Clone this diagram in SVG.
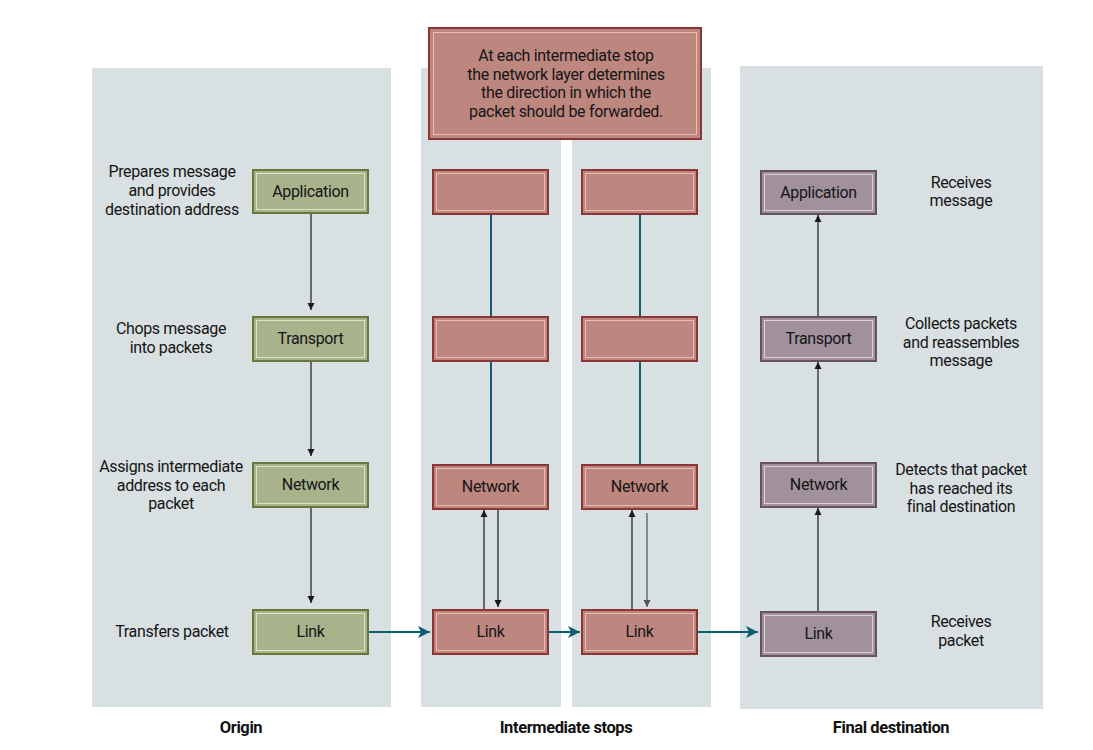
<svg xmlns="http://www.w3.org/2000/svg" width="1093" height="750" viewBox="0 0 1093 750">
<style>
.panel{fill:#d8e0e2}
.t{font-family:Roboto,"Liberation Sans",sans-serif;font-size:16px;fill:#151515;text-anchor:middle;letter-spacing:-0.35px}
.tn{font-family:Roboto,"Liberation Sans",sans-serif;font-size:16px;fill:#151515;text-anchor:middle;letter-spacing:-0.3px}
.lbl{font-family:Roboto,"Liberation Sans",sans-serif;font-size:16.5px;font-weight:bold;fill:#111;text-anchor:middle;letter-spacing:-0.4px}
.g{fill:#a8b38c;stroke:#68773f;stroke-width:2}
.gi{fill:none;stroke:#dde2c8;stroke-width:1}
.r{fill:#bd867f;stroke:#8b3535;stroke-width:2}
.ri{fill:none;stroke:#e6bdb7;stroke-width:1}
.p{fill:#a0919d;stroke:#66525f;stroke-width:2}
.pi{fill:none;stroke:#dccfd7;stroke-width:1}
.k{stroke:#1a1a1a;stroke-width:1.2;fill:none}
.tl{stroke:#0e5d70;stroke-width:2;fill:none}
</style>
<defs>
<marker id="ah" viewBox="0 0 10 10" refX="10" refY="5" markerWidth="7" markerHeight="9" markerUnits="userSpaceOnUse" orient="auto"><path d="M0,0 L10,5 L0,10 z" fill="#1a1a1a"/></marker>
<marker id="ahg" viewBox="0 0 10 10" refX="10" refY="5" markerWidth="7" markerHeight="9" markerUnits="userSpaceOnUse" orient="auto"><path d="M0,0 L10,5 L0,10 z" fill="#555"/></marker>
<marker id="at" viewBox="0 0 12 12" refX="12" refY="6" markerWidth="13" markerHeight="12" markerUnits="userSpaceOnUse" orient="auto"><path d="M0,0 L12,6 L0,12 L3,6 z" fill="#0e5d70"/></marker>
</defs>
<rect width="1093" height="750" fill="#fff"/>
<g id="panels">
<rect class="panel" x="92" y="68" width="299" height="639"/>
<rect class="panel" x="421" y="68" width="140" height="639"/>
<rect class="panel" x="572" y="68" width="139" height="639"/>
<rect class="panel" x="740" y="66" width="303" height="643"/>
</g>
<g id="connectors">
<line class="k" x1="311" y1="214" x2="311" y2="310" marker-end="url(#ah)"/>
<line class="k" x1="311" y1="362" x2="311" y2="456" marker-end="url(#ah)"/>
<line class="k" x1="311" y1="508" x2="311" y2="603" marker-end="url(#ah)"/>
<line class="tl" x1="491" y1="215" x2="491" y2="317"/>
<line class="tl" x1="491" y1="362" x2="491" y2="465"/>
<line class="tl" x1="640" y1="215" x2="640" y2="317"/>
<line class="tl" x1="640" y1="362" x2="640" y2="465"/>
<line class="k" x1="484" y1="609" x2="484" y2="510" marker-end="url(#ah)"/>
<line class="k" x1="498" y1="510" x2="498" y2="607" marker-end="url(#ah)"/>
<line class="k" x1="632" y1="609" x2="632" y2="510" marker-end="url(#ah)"/>
<line x1="647" y1="513" x2="647" y2="607" stroke="#666" stroke-width="1.4" marker-end="url(#ahg)"/>
<line class="k" x1="818" y1="611" x2="818" y2="508" marker-end="url(#ah)"/>
<line class="k" x1="818" y1="462" x2="818" y2="362" marker-end="url(#ah)"/>
<line class="k" x1="818" y1="316" x2="818" y2="215" marker-end="url(#ah)"/>
<line class="tl" x1="369" y1="632" x2="430" y2="632" marker-end="url(#at)"/>
<line class="tl" x1="549" y1="632" x2="580" y2="632" marker-end="url(#at)"/>
<line class="tl" x1="698" y1="632" x2="758" y2="632" marker-end="url(#at)"/>
</g>
<g id="note">
<rect class="r" x="429" y="28" width="272" height="111"/>
<rect class="ri" x="433.5" y="32.5" width="263" height="102"/>
<text class="tn" x="566" y="61">At each intermediate stop</text>
<text class="tn" x="566" y="80">the network layer determines</text>
<text class="tn" x="566" y="98">the direction in which the</text>
<text class="tn" x="566" y="117">packet should be forwarded.</text>
</g>
<g id="origin-app"><rect class="g" x="253" y="170" width="115" height="43"/><rect class="gi" x="256.5" y="173.5" width="108" height="36"/><text class="t" x="310.5" y="197">Application</text></g>
<g id="origin-transport"><rect class="g" x="253" y="317" width="115" height="44"/><rect class="gi" x="256.5" y="320.5" width="108" height="37"/><text class="t" x="310.5" y="344">Transport</text></g>
<g id="origin-network"><rect class="g" x="253" y="463" width="115" height="44"/><rect class="gi" x="256.5" y="466.5" width="108" height="37"/><text class="t" x="310.5" y="490">Network</text></g>
<g id="origin-link"><rect class="g" x="253" y="610" width="115" height="44"/><rect class="gi" x="256.5" y="613.5" width="108" height="37"/><text class="t" x="310.5" y="637">Link</text></g>
<g id="s1-app"><rect class="r" x="433" y="170" width="115" height="44"/><rect class="ri" x="436.5" y="173.5" width="108" height="37"/></g>
<g id="s1-transport"><rect class="r" x="433" y="317" width="115" height="44"/><rect class="ri" x="436.5" y="320.5" width="108" height="37"/></g>
<g id="s1-network"><rect class="r" x="433" y="465" width="115" height="44"/><rect class="ri" x="436.5" y="468.5" width="108" height="37"/><text class="t" x="490.5" y="492">Network</text></g>
<g id="s1-link"><rect class="r" x="433" y="610" width="115" height="44"/><rect class="ri" x="436.5" y="613.5" width="108" height="37"/><text class="t" x="490.5" y="637">Link</text></g>
<g id="s2-app"><rect class="r" x="582" y="170" width="115" height="44"/><rect class="ri" x="585.5" y="173.5" width="108" height="37"/></g>
<g id="s2-transport"><rect class="r" x="582" y="317" width="115" height="44"/><rect class="ri" x="585.5" y="320.5" width="108" height="37"/></g>
<g id="s2-network"><rect class="r" x="582" y="465" width="115" height="44"/><rect class="ri" x="585.5" y="468.5" width="108" height="37"/><text class="t" x="639.5" y="492">Network</text></g>
<g id="s2-link"><rect class="r" x="582" y="610" width="115" height="44"/><rect class="ri" x="585.5" y="613.5" width="108" height="37"/><text class="t" x="639.5" y="637">Link</text></g>
<g id="dest-app"><rect class="p" x="761" y="171" width="115" height="43"/><rect class="pi" x="764.5" y="174.5" width="108" height="36"/><text class="t" x="818.5" y="198">Application</text></g>
<g id="dest-transport"><rect class="p" x="761" y="317" width="115" height="44"/><rect class="pi" x="764.5" y="320.5" width="108" height="37"/><text class="t" x="818.5" y="344">Transport</text></g>
<g id="dest-network"><rect class="p" x="761" y="463" width="115" height="44"/><rect class="pi" x="764.5" y="466.5" width="108" height="37"/><text class="t" x="818.5" y="490">Network</text></g>
<g id="dest-link"><rect class="p" x="761" y="612" width="115" height="44"/><rect class="pi" x="764.5" y="615.5" width="108" height="37"/><text class="t" x="818.5" y="639">Link</text></g>
<g id="descriptions">
<text class="t" x="172" y="177">Prepares message</text>
<text class="t" x="172" y="196">and provides</text>
<text class="t" x="172" y="215">destination address</text>
<text class="t" x="171" y="334">Chops message</text>
<text class="t" x="171" y="353">into packets</text>
<text class="t" x="171" y="472">Assigns intermediate</text>
<text class="t" x="171" y="491">address to each</text>
<text class="t" x="171" y="509">packet</text>
<text class="t" x="172" y="637">Transfers packet</text>
<text class="t" x="961" y="188">Receives</text>
<text class="t" x="961" y="206">message</text>
<text class="t" x="961" y="329">Collects packets</text>
<text class="t" x="961" y="348">and reassembles</text>
<text class="t" x="961" y="366">message</text>
<text class="t" x="961" y="475">Detects that packet</text>
<text class="t" x="961" y="494">has reached its</text>
<text class="t" x="961" y="512">final destination</text>
<text class="t" x="961" y="627">Receives</text>
<text class="t" x="961" y="646">packet</text>
</g>
<g id="labels">
<text class="lbl" x="241" y="733">Origin</text>
<text class="lbl" x="566" y="733">Intermediate stops</text>
<text class="lbl" x="891" y="733">Final destination</text>
</g>
</svg>
